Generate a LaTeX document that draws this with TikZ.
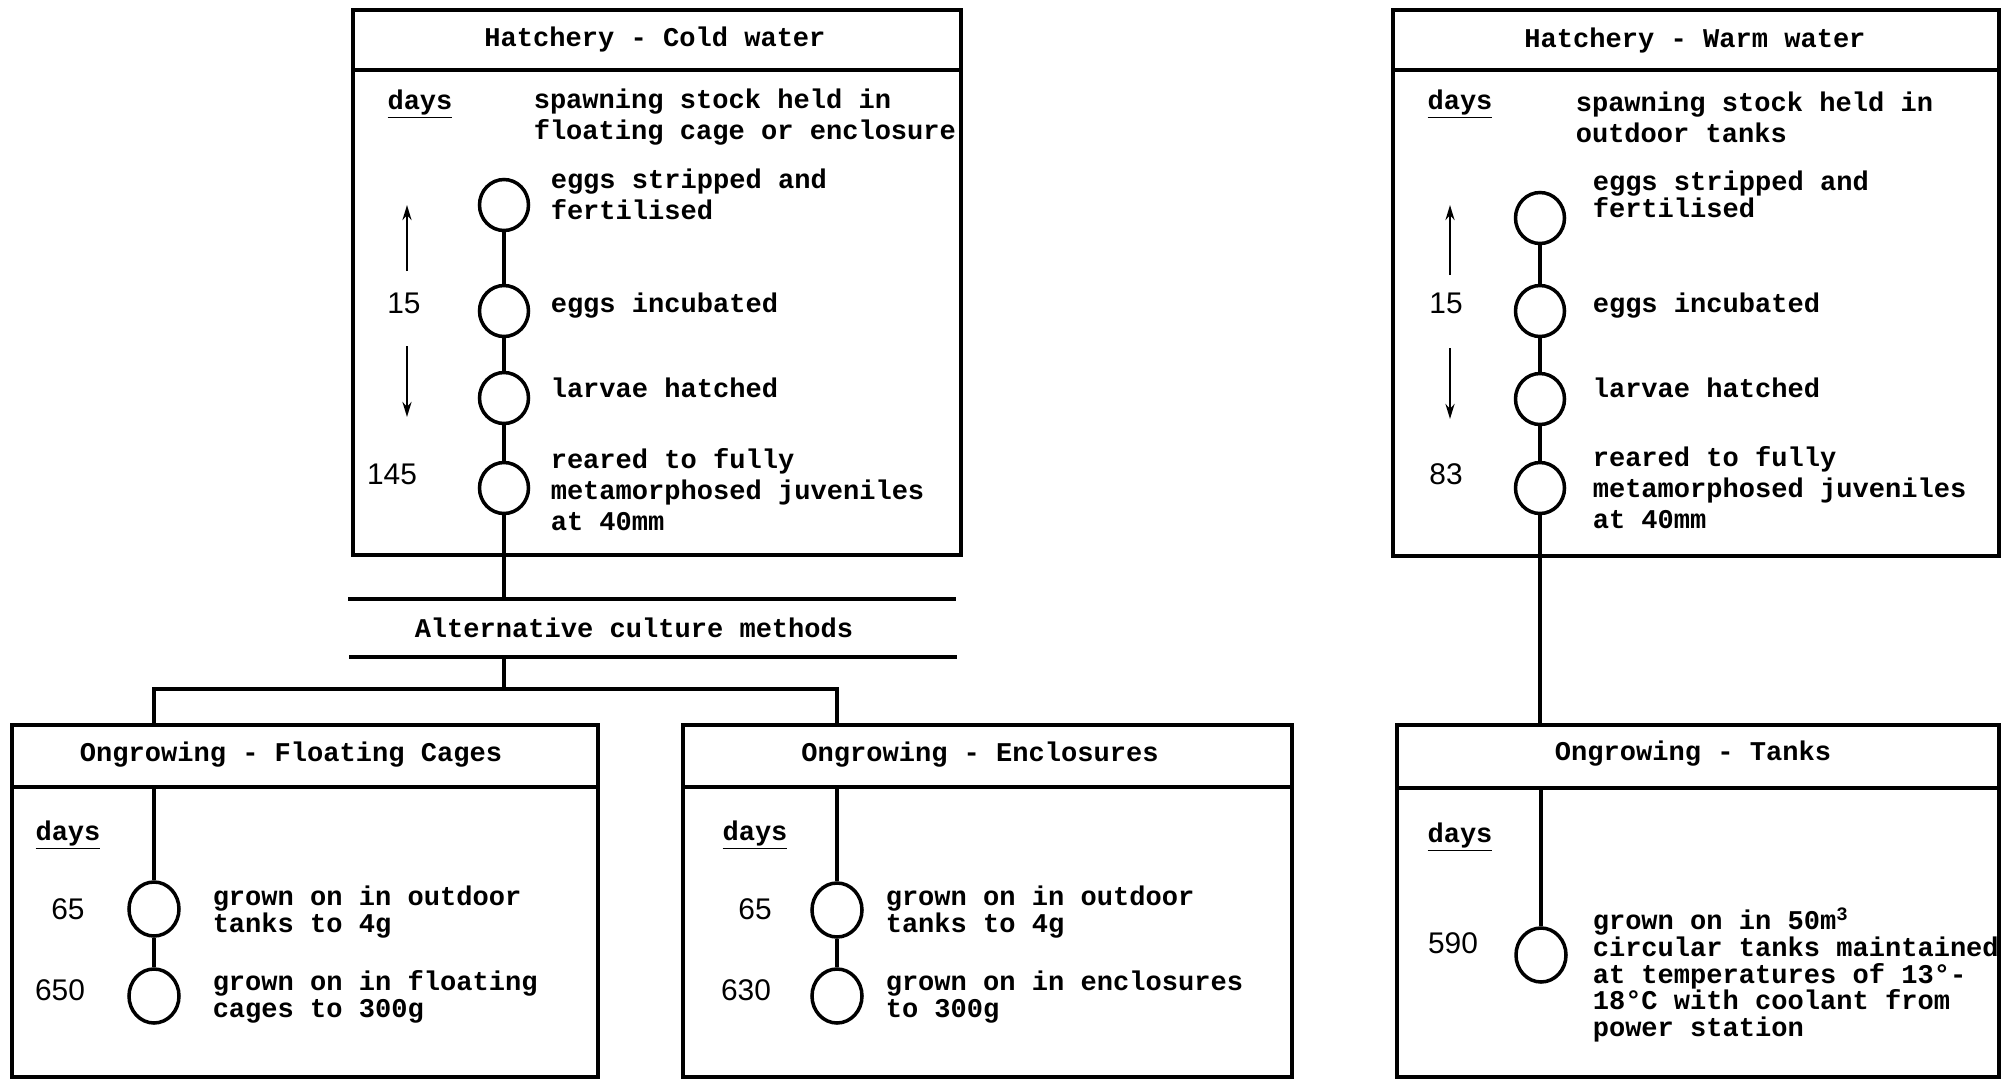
\documentclass[tikz,border=0pt]{standalone}
\usepackage{fontspec}
\setmainfont{Liberation Mono}
\newfontfamily\digitfont{Liberation Sans}
\usetikzlibrary{arrows.meta,positioning,shapes.geometric}

\begin{document}
\begin{tikzpicture}[
     x=0.2mm, y=-0.2mm, line width=2pt,
     panel/.style={draw, line width=2pt, anchor=north west, minimum height=70.4mm},
     head/.style={font=\fontsize{15.4}{17.6}\selectfont\bfseries, inner sep=0pt},
     txt/.style={font=\fontsize{15.4}{17.6}\selectfont\bfseries, align=left, anchor=west, inner sep=0pt},
     tight/.style={txt, font=\fontsize{15.4}{15.2}\selectfont\bfseries},
     daynum/.style={font=\digitfont\fontsize{17}{19}\selectfont, inner sep=0pt},
     stage/.style={draw, ellipse, minimum width=9.8mm, minimum height=10.2mm, inner sep=0pt},
     ongstage/.style={stage, minimum width=10mm, minimum height=10.8mm},
     tick/.style={-{Stealth[length=3mm, width=1.8mm]}, line width=1.6pt}]
  \useasboundingbox (0,0) rectangle (2007,1079);

  % hatchery, cold water
  \node[panel, minimum width=121.6mm, minimum height=109mm] (hc) at (351,8) {};
  \draw (hc.north west) ++(0,62) -- ++(608,0);
  \node[head] (hcT) at (655,39) {Hatchery - Cold water};
  \node[head] (hcD) at (420,104) {\underline{days}};
  \node[txt] (hcS) at (532,117) {spawning stock held in\\floating cage or enclosure};
  \node[stage] (hc1) at (504,205) {};
  \node[stage] (hc2) at (504,311) {};
  \node[stage] (hc3) at (504,398) {};
  \node[stage] (hc4) at (504,488) {};
  \draw (hc1) -- (hc2); \draw (hc2) -- (hc3); \draw (hc3) -- (hc4);
  \node[txt] (hc1t) at (549,194) {eggs stripped and\\fertilised};
  \node[txt] (hc2t) at (549,306) {eggs incubated};
  \node[txt] (hc3t) at (549,388) {larvae hatched};
  \node[txt] (hc4t) at (549,490) {reared to fully\\metamorphosed juveniles\\at 40mm};
  \node[daynum] (hcN1) at (404,303) {15};
  \node[daynum] (hcN2) at (392,474) {145};
  \coordinate (hcUa) at (407,271); \coordinate (hcUb) at (407,205);
  \coordinate (hcDa) at (407,346); \coordinate (hcDb) at (407,417);
  \draw[tick] (hcUa) -- (hcUb); \draw[tick] (hcDa) -- (hcDb);

  % alternative methods
  \coordinate (altA) at (348,599); \coordinate (altB) at (956,599);
  \coordinate (altC) at (349,657); \coordinate (altD) at (957,657);
  \draw (altA) -- (altB); \draw (altC) -- (altD);
  \node[head] (alt) at (634,628) {Alternative culture methods};
  \draw (hc4) -- (hc4 |- altA);
  \coordinate (jn) at (504,689);
  \draw (hc4 |- altC) -- (jn);

  % ongrowing, floating cages
  \node[panel, minimum width=117.2mm] (fc) at (10,723) {};
  \coordinate (fcS) at (10,787); \draw (fcS) -- ++(586,0);
  \node[head] (fcT) at (291,755) {Ongrowing - Floating Cages};
  \node[head] (fcD) at (68,835) {\underline{days}};
  \node[ongstage] (fc1) at (154,909) {};
  \node[ongstage] (fc2) at (154,996) {};
  \draw (fc1 |- fcS) -- (fc1); \draw (fc1) -- (fc2);
  \node[daynum] (fcN1) at (68,909) {65};
  \node[daynum] (fcN2) at (60,990) {650};
  \node[tight] (fc1t) at (211,912) {grown on in outdoor\\tanks to 4g};
  \node[tight] (fc2t) at (211,997) {grown on in floating\\cages to 300g};

  % ongrowing, enclosures
  \node[panel, minimum width=121.8mm] (ec) at (681,723) {};
  \coordinate (ecS) at (681,787); \draw (ecS) -- ++(609,0);
  \node[head] (ecT) at (980,755) {Ongrowing - Enclosures};
  \node[head] (ecD) at (755,835) {\underline{days}};
  \node[ongstage] (ec1) at (837,910) {};
  \node[ongstage] (ec2) at (837,996) {};
  \draw (ec1 |- ecS) -- (ec1); \draw (ec1) -- (ec2);
  \node[daynum] (ecN1) at (755,909) {65};
  \node[daynum] (ecN2) at (746,990) {630};
  \node[tight] (ec1t) at (884,912) {grown on in outdoor\\tanks to 4g};
  \node[tight] (ec2t) at (884,997) {grown on in enclosures\\to 300g};

  % branches to the two methods
  \draw (fc1 |- fc.north) -- (fc1 |- jn) -- (ec1 |- jn) -- (ec1 |- ec.north);

  % hatchery, warm water
  \node[panel, minimum width=121.2mm, minimum height=109.2mm] (hw) at (1391,8) {};
  \draw (hw.north west) ++(0,62) -- ++(606,0);
  \node[head] (hwT) at (1695,40) {Hatchery - Warm water};
  \node[head] (hwD) at (1460,104) {\underline{days}};
  \node[txt] (hwS) at (1574,117) {spawning stock held in\\outdoor tanks};
  \node[stage] (hw1) at (1540,218) {};
  \node[stage] (hw2) at (1540,311) {};
  \node[stage] (hw3) at (1540,399) {};
  \node[stage] (hw4) at (1540,488) {};
  \draw (hw1) -- (hw2); \draw (hw2) -- (hw3); \draw (hw3) -- (hw4);
  \node[tight] (hw1t) at (1591,194) {eggs stripped and\\fertilised};
  \node[txt] (hw2t) at (1591,306) {eggs incubated};
  \node[txt] (hw3t) at (1591,388) {larvae hatched};
  \node[txt] (hw4t) at (1591,488) {reared to fully\\metamorphosed juveniles\\at 40mm};
  \node[daynum] (hwN1) at (1446,303) {15};
  \node[daynum] (hwN2) at (1446,474) {83};
  \coordinate (hwUa) at (1450,275); \coordinate (hwUb) at (1450,205);
  \coordinate (hwDa) at (1450,348); \coordinate (hwDb) at (1450,419);
  \draw[tick] (hwUa) -- (hwUb); \draw[tick] (hwDa) -- (hwDb);

  % ongrowing, tanks
  \node[panel, minimum width=120.4mm] (tk) at (1395,723) {};
  \coordinate (tkS) at (1395,788); \draw (tkS) -- ++(602,0);
  \node[head] (tkT) at (1693,754) {Ongrowing - Tanks};
  \node[head] (tkD) at (1460,837) {\underline{days}};
  \node[ongstage] (tk1) at (1541,955) {};
  \draw (hw4) -- (hw4 |- tk.north);
  \draw (tk1 |- tkS) -- (tk1);
  \node[daynum] (tkN1) at (1453,943) {590};
  \node[tight] (tk1t) at (1591,975) {grown on in 50m\textsuperscript{3}\\circular tanks maintained\\at temperatures of 13°-\\18°C with coolant from\\power station};
\end{tikzpicture}
\end{document}
